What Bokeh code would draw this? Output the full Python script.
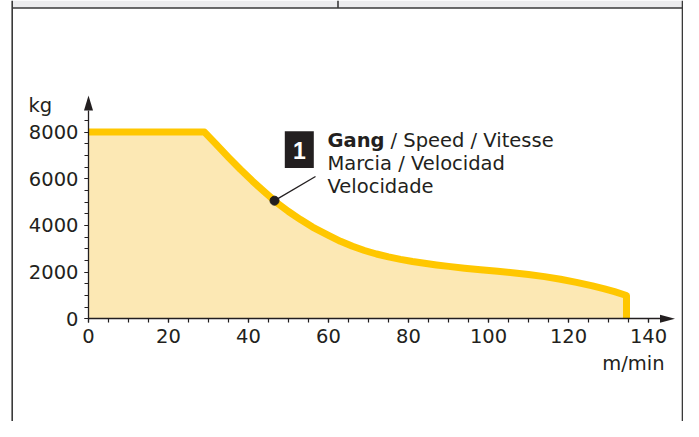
from bokeh.plotting import figure
from bokeh.models import FixedTicker, Range1d, LinearAxis
from bokeh.core.properties import value
from bokeh.embed import file_html
from bokeh.resources import INLINE

# ---------------- data ----------------
speed = [0, 29, 32, 35, 38, 41, 44, 47, 50, 53, 56, 60, 63, 66, 69, 72, 75, 78,
         81, 84, 87, 90, 94, 98, 102.3, 106, 110, 114, 118, 122, 126, 129, 131.5,
         134.5, 134.5]
load = [8000, 8000, 7460, 6920, 6395, 5900, 5435, 4985, 4595, 4250, 3930, 3575,
        3320, 3104, 2924, 2774, 2648, 2543, 2453, 2375, 2306, 2243, 2167, 2099,
        2030, 1971, 1895, 1803, 1691, 1559, 1407, 1278, 1158, 993, 0]

x_ticks = [0, 20, 40, 60, 80, 100, 120, 140]
x_minor_ticks = [0, 5, 10, 15, 20, 25, 30, 35, 40, 45, 50, 55, 60, 65, 70, 75,
                 80, 85, 90, 95, 100, 105, 110, 115, 120, 125, 130, 135, 140]
y_ticks = [0, 2000, 4000, 6000, 8000]
y_minor_ticks = [0, 500, 1000, 1500, 2000, 2500, 3000, 3500, 4000, 4500, 5000,
                 5500, 6000, 6500, 7000, 7500, 8000, 8500]

marker_speed = [46.5]
marker_load = [5060]

y_unit = "kg"
x_unit = "m/min"
callout_number = "1"
callout_bold = "Gang"
callout_line1 = "/ Speed / Vitesse"
callout_line2 = "Marcia / Velocidad"
callout_line3 = "Velocidade"

# ---------------- layout helpers (picture pixels -> data) ----------------
W, H = 683, 421
X0_PX = 88.0
PX_PER_X = 4.0
Y0_PX = 318.2
PX_PER_Y = 186.6 / 8000.0


def dx(px):
    return (px - X0_PX) / PX_PER_X


def dy(py):
    return (Y0_PX - py) / PX_PER_Y


INK = "#231F20"
YELLOW = "#FFC700"
FILL = "#FCE8B4"
FONT = "DejaVu Sans"

p = figure(width=W, height=H, output_backend="svg", toolbar_location=None,
           x_range=Range1d(dx(0), dx(W)),
           y_range=Range1d(dy(H), dy(0)),
           x_axis_location=None, y_axis_location=None,
           min_border=0, min_border_left=0, min_border_right=0,
           min_border_top=0, min_border_bottom=0)
p.outline_line_color = None
p.background_fill_color = "white"
p.border_fill_color = "white"
p.grid.visible = False

# frame decoration (table cell around the chart)
p.quad(left=[dx(11.7)], right=[dx(W)], top=[dy(0)], bottom=[dy(7.5)],
       fill_color="#ECECEE", line_color=None)
p.segment(x0=[dx(11.7), dx(682), dx(11.7), dx(337.5)],
          y0=[dy(0), dy(0), dy(7.5), dy(0)],
          x1=[dx(11.7), dx(682), dx(W), dx(337.5)],
          y1=[dy(H), dy(H), dy(7.5), dy(7.5)],
          line_color="#3a3a3a", line_width=1.6)

# area + line
p.patch(speed + [0], load + [0], fill_color=FILL, line_color=None)
p.line(speed, load, line_color=YELLOW, line_width=7, line_join="round", line_cap="butt")

# axes
xaxis = LinearAxis(fixed_location=0, bounds=(0, dx(660)),
                   ticker=FixedTicker(ticks=x_ticks, minor_ticks=x_minor_ticks))
yaxis = LinearAxis(fixed_location=0, bounds=(0, dy(110)),
                   ticker=FixedTicker(ticks=y_ticks, minor_ticks=y_minor_ticks))
for ax in (xaxis, yaxis):
    ax.axis_line_color = INK
    ax.axis_line_width = 1.3
    ax.major_tick_line_color = INK
    ax.minor_tick_line_color = INK
    ax.major_tick_line_width = 1.2
    ax.minor_tick_line_width = 1.2
    ax.major_tick_in = 0
    ax.major_tick_out = 4
    ax.minor_tick_in = 0
    ax.minor_tick_out = 4
    ax.major_label_text_font = FONT
    ax.major_label_text_font_size = "19.5px"
    ax.major_label_text_color = INK
    ax.major_label_standoff = 6
p.add_layout(xaxis, "below")
p.add_layout(yaxis, "left")

# axis arrows
p.patch([dx(659.5), dx(674.5), dx(659.5)], [dy(314.2), dy(318.2), dy(322.2)],
        fill_color=INK, line_color=None)
p.patch([dx(83.5), dx(88), dx(92.5)], [dy(110), dy(95), dy(110)],
        fill_color=INK, line_color=None)

# unit labels
p.text(x=[dx(28)], y=[dy(105)], text=[y_unit], text_font=value(FONT),
       text_font_size="19.5px", text_color=INK, text_align="left",
       text_baseline="alphabetic")
p.text(x=[dx(664)], y=[dy(362.5)], text=[x_unit], text_font=value(FONT),
       text_font_size="19.5px", text_color=INK, text_align="right",
       text_baseline="alphabetic")

# callout
p.line([marker_speed[0], dx(315)], [marker_load[0], dy(176)], line_color=INK, line_width=1.3)
p.scatter(marker_speed, marker_load, size=9, color=INK)
p.quad(left=[dx(284.3)], right=[dx(313.3)], top=[dy(130.7)], bottom=[dy(167.5)],
       fill_color=INK, line_color=None)
p.text(x=[dx(299)], y=[dy(149.5)], text=[callout_number], text_font=value("Liberation Sans"),
       text_font_style="bold", text_font_size="23px", text_color="white",
       text_align="center", text_baseline="alphabetic")
p.text(x=[dx(327)], y=[dy(139.7)], text=[callout_bold], text_font=value(FONT),
       text_font_style="bold", text_font_size="19.5px", text_color=INK,
       text_align="left", text_baseline="alphabetic")
p.text(x=[dx(390)], y=[dy(139.7)], text=[callout_line1], text_font=value(FONT),
       text_font_size="19.5px", text_color=INK, text_align="left", text_baseline="alphabetic")
p.text(x=[dx(327), dx(327)], y=[dy(163), dy(185.5)], text=[callout_line2, callout_line3],
       text_font=value(FONT), text_font_size="19.5px", text_color=INK,
       text_align="left", text_baseline="alphabetic")

open("out.html", "w").write(file_html(p, INLINE))
